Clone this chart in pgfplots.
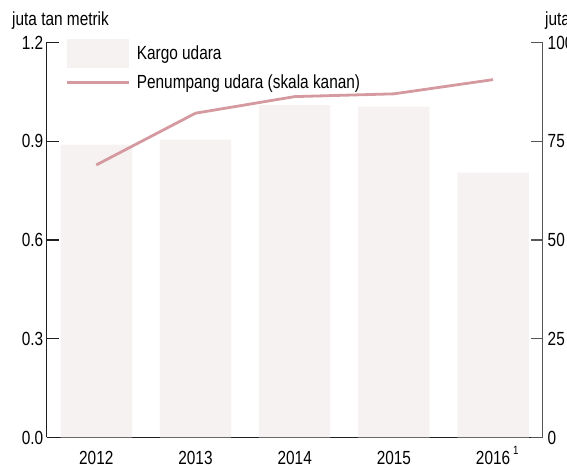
\documentclass[border=0pt]{standalone}
\usepackage{pgfplots}
\pgfplotsset{compat=1.18}
\usepackage{fontspec}
\setmainfont{Liberation Sans}[FakeStretch=0.81]
\definecolor{barc}{RGB}{247,242,242}
\definecolor{linec}{RGB}{212,154,160}
\definecolor{axc}{RGB}{30,30,30}
\definecolor{axr}{RGB}{85,85,85}
\begin{document}
\begin{tikzpicture}
\pgfplotsset{
  common/.style={
    at={(46.7pt,32.5pt)}, anchor=south west,
    scale only axis, width=496pt, height=395pt,
    xmin=-0.5, xmax=4.5,
    tick align=inside, major tick length=12pt,
    every tick/.style={axc, line width=1.2pt},
    axis line style={axc, line width=1.3pt},
    tick label style={font=\fontsize{19}{21}\selectfont},
    /pgf/number format/assume math mode=true,
  }
}
\begin{axis}[common,
  axis y line*=left, axis x line*=bottom,
  ymin=0, ymax=1.2, ytick={0,0.3,0.6,0.9,1.2},
  yticklabel style={/pgf/number format/.cd, fixed, fixed zerofill, precision=1},
  xtick={0,1,2,3,4},
  xticklabels={2012,2013,2014,2015,{2016\rlap{\smash{\hspace{3pt}\raisebox{9.5pt}{\fontsize{12}{12}\selectfont 1}}}}},
  xtick style={draw=none},
  xticklabel style={yshift=-10pt},
  legend style={at={(axis description cs:0.039,1.008)}, anchor=north west,
    draw=none, fill=none, inner sep=0pt, outer sep=0pt, row sep=0pt,
    nodes={inner sep=0pt, font=\fontsize{19}{21}\selectfont},
    /tikz/every odd column/.append style={column sep=6pt}},
  legend cell align=left,
]
\addplot[ybar, bar width=0.72, fill=barc, draw=none,
  legend image code/.code={\fill[barc] (0pt,-14.5pt) rectangle (62pt,14.5pt);}]
  coordinates {(0,0.89) (1,0.905) (2,1.01) (3,1.005) (4,0.805)};
\addlegendentry{Kargo udara}
\addlegendimage{legend image code/.code={\path[draw=none,fill=none] (0pt,-14.5pt) rectangle (62pt,14.5pt); \draw[linec, line width=2.8pt] (0pt,0pt) -- (62pt,0pt);}}
\addlegendentry{Penumpang udara (skala kanan)}
\end{axis}
\begin{axis}[common,
  axis y line*=right, axis x line=none,
  ymin=0, ymax=100, ytick={0,25,50,75,100},
  yticklabel style={xshift=1.5pt},
  every tick/.style={axr, line width=1.2pt},
  axis line style={axr, line width=1.3pt},
]
\addplot[linec, line width=2.8pt] coordinates {(0,69.0) (1,82.1) (2,86.3) (3,87.0) (4,90.6)};
\end{axis}
\node[anchor=base west, font=\fontsize{19}{21}\selectfont, inner sep=0pt] at (12pt,444pt) {juta tan metrik};
\node[anchor=base west, font=\fontsize{19}{21}\selectfont, inner sep=0pt] at (545pt,444pt) {juta tan metrik};
\pgfresetboundingbox
\useasboundingbox (0pt,0pt) rectangle (567pt,470pt);
\end{tikzpicture}
\end{document}
